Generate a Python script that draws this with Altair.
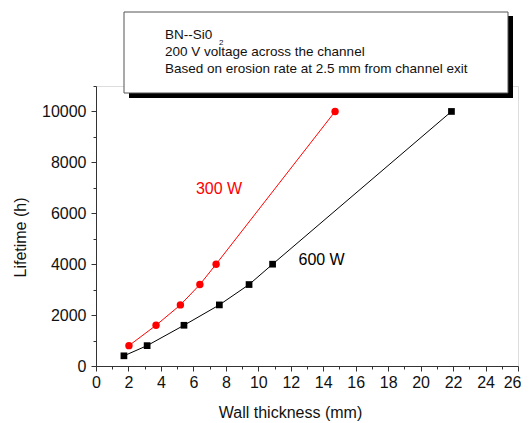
import altair as alt
import pandas as pd

# Data
x_300w = [2.03, 3.7, 5.2, 6.4, 7.4, 14.73]
y_300w = [800, 1600, 2400, 3200, 4000, 10000]
x_600w = [1.72, 3.15, 5.42, 7.6, 9.43, 10.88, 21.9]
y_600w = [400, 800, 1600, 2400, 3200, 4000, 10000]

series_labels = ["300 W", "600 W"]
label_x = [7.58, 13.9]
label_y = [6950, 4150]
label_colors = ["#ff0000", "#000000"]

box_lines = ["BN--Si0", "200 V voltage across the channel",
             "Based on erosion rate at 2.5 mm from channel exit"]

x_ticks = list(range(0, 27))
y_ticks = list(range(0, 11001, 1000))

df300 = pd.DataFrame({"x": x_300w, "y": y_300w})
df600 = pd.DataFrame({"x": x_600w, "y": y_600w})
dflab = pd.DataFrame({"x": label_x, "y": label_y, "t": series_labels, "c": label_colors})

FONT = "Liberation Sans"

xscale = alt.Scale(domain=[0, 26], nice=False, zero=False)
yscale = alt.Scale(domain=[0, 11000], nice=False)

xaxis = alt.Axis(
    title="Wall thickness (mm)", values=x_ticks,
    labelExpr="datum.value % 2 == 0 ? datum.label : ''",
    labelAlign={"condition": {"test": "datum.value == 26", "value": "right"}, "value": "center"},
    labelOffset={"condition": {"test": "datum.value == 26", "value": 3}, "value": 0},
    tickSize={"condition": {"test": "datum.value % 2 == 0", "value": 5}, "value": 3},
    grid=False, domainColor="#333333", tickColor="#333333",
    labelFontSize=16, titleFontSize=16, labelFont=FONT, titleFont=FONT,
    labelColor="#111111", titleColor="#111111", titleFontWeight="normal",
    labelPadding=3, titleX=194, titleY=46, titleBaseline="middle",
    labelFlush=False, labelOverlap=False,
)
yaxis = alt.Axis(
    title="Lifetime (h)", values=y_ticks,
    labelExpr="datum.value % 2000 == 0 ? datum.label : ''",
    tickSize={"condition": {"test": "datum.value % 2000 == 0", "value": 5}, "value": 3},
    grid=False, domainColor="#333333", tickColor="#333333", format="d",
    labelFontSize=16, titleFontSize=16, labelFont=FONT, titleFont=FONT,
    labelColor="#111111", titleColor="#111111", titleFontWeight="normal",
    labelPadding=5, titleX=-76, titleY=151, titleBaseline="middle",
    labelFlush=False, labelOverlap=False,
)

X = alt.X("x:Q", scale=xscale, axis=xaxis)
Y = alt.Y("y:Q", scale=yscale, axis=yaxis)

base300 = alt.Chart(df300)
line300 = base300.mark_line(color="#ff0000", strokeWidth=1).encode(x=X, y=Y)
pts300 = base300.mark_point(shape="circle", filled=True, color="#ff0000", size=55, opacity=1).encode(
    x=X, y=Y)

base600 = alt.Chart(df600)
line600 = base600.mark_line(color="#000000", strokeWidth=1).encode(x=X, y=Y)
pts600 = base600.mark_point(shape="square", filled=True, color="#000000", size=45, opacity=1).encode(
    x=X, y=Y)

labels = alt.Chart(dflab).mark_text(font=FONT, fontSize=16, align="center", baseline="middle").encode(
    x=X, y=Y, text="t:N", color=alt.Color("c:N", scale=None))

# Annotation box (pixel positions relative to plot area)
shadow = alt.Chart(pd.DataFrame({"a": [0]})).mark_rect(color="#000000", clip=False).encode(
    x=alt.value(33), x2=alt.value(417), y=alt.value(-70), y2=alt.value(12))
box = alt.Chart(pd.DataFrame({"a": [0]})).mark_rect(
    fill="#ffffff", stroke="#555555", strokeWidth=1, clip=False).encode(
    x=alt.value(28), x2=alt.value(412), y=alt.value(-74), y2=alt.value(7))

text_layers = []
for i, line in enumerate(box_lines):
    text_layers.append(
        alt.Chart(pd.DataFrame({"t": [line]})).mark_text(
            font=FONT, fontSize=13.5, align="left", baseline="middle", color="#111111").encode(
            x=alt.value(69), y=alt.value(-51 + 17 * i), text="t:N"))
sub = alt.Chart(pd.DataFrame({"t": ["2"]})).mark_text(
    font=FONT, fontSize=8, align="left", baseline="middle", color="#111111").encode(
    x=alt.value(123), y=alt.value(-43), text="t:N")

chart = alt.layer(line300, line600, pts300, pts600, labels, shadow, box, *text_layers, sub).properties(
    width=422, height=280,
    autosize=alt.AutoSizeParams(type="none"),
    padding={"left": 88, "top": 78, "right": 3, "bottom": 56},
).configure_view(stroke=None).configure_axis(labelOverlap=False).configure(background="#ffffff")

chart.save("out.html", embed_options={"renderer": "svg", "actions": False})
